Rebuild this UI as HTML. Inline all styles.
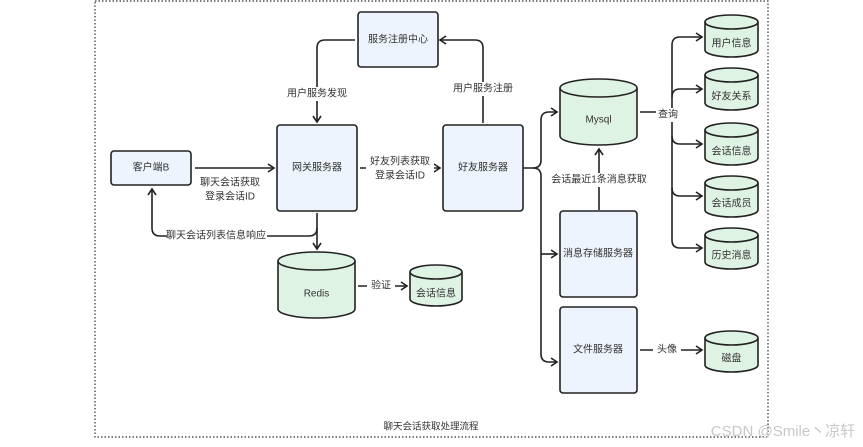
<!DOCTYPE html>
<html><head><meta charset="utf-8"><style>
html,body{margin:0;padding:0;background:#fff;}
svg{display:block;font-family:"Liberation Sans","Noto Sans CJK SC",sans-serif;}
.b{fill:#eef4fd;stroke:#222;stroke-width:1.6;}
.c{fill:#dff3e4;stroke:#222;stroke-width:1.6;}
.l{fill:none;stroke:#222;stroke-width:1.6;}
text{font-size:10px;fill:#333;text-anchor:middle;dominant-baseline:middle;}
</style></head><body>
<svg width="863" height="447" viewBox="0 0 863 447">
<defs><marker id="a" markerWidth="10" markerHeight="10" refX="8" refY="5" orient="auto" markerUnits="userSpaceOnUse"><path d="M2,1 L8,5 L2,9" fill="none" stroke="#222" stroke-width="1.6"/></marker></defs>
<rect x="95" y="1" width="673" height="436" fill="none" stroke="#333" stroke-width="1.2" stroke-dasharray="1.5,2"/>
<!-- boxes -->
<rect class="b" x="358" y="12" width="80" height="55" rx="3"/><text x="398" y="40">服务注册中心</text>
<rect class="b" x="277" y="125" width="80" height="86" rx="3"/><text x="317" y="168">网关服务器</text>
<rect class="b" x="443" y="125" width="80" height="86" rx="3"/><text x="483" y="168">好友服务器</text>
<rect class="b" x="111" y="151" width="80" height="34" rx="3"/><text x="151" y="168">客户端B</text>
<rect class="b" x="560" y="211" width="77" height="86" rx="3"/><text x="598" y="254">消息存储服务器</text>
<rect class="b" x="560" y="307" width="77" height="86" rx="3"/><text x="598" y="350">文件服务器</text>
<!-- cylinders -->
<g>
<path class="c" d="M278,261 v48 a38.5,9 0 0 0 77,0 v-48"/><ellipse class="c" cx="316.5" cy="261" rx="38.5" ry="9"/><text x="316.5" y="294">Redis</text>
<path class="c" d="M410,272 v27 a26,7 0 0 0 52,0 v-27"/><ellipse class="c" cx="436" cy="272" rx="26" ry="7"/><text x="436" y="294">会话信息</text>
<path class="c" d="M560,88 v48 a38.5,9 0 0 0 77,0 v-48"/><ellipse class="c" cx="598.5" cy="88" rx="38.5" ry="9"/><text x="598.5" y="120">Mysql</text>
<path class="c" d="M705,22 v28 a26.5,7 0 0 0 53,0 v-28"/><ellipse class="c" cx="731.5" cy="22" rx="26.5" ry="7"/><text x="731.5" y="44">用户信息</text>
<path class="c" d="M705,75 v28 a26.5,7 0 0 0 53,0 v-28"/><ellipse class="c" cx="731.5" cy="75" rx="26.5" ry="7"/><text x="731.5" y="97">好友关系</text>
<path class="c" d="M705,130 v28 a26.5,7 0 0 0 53,0 v-28"/><ellipse class="c" cx="731.5" cy="130" rx="26.5" ry="7"/><text x="731.5" y="152">会话信息</text>
<path class="c" d="M705,183 v27 a26.5,7 0 0 0 53,0 v-27"/><ellipse class="c" cx="731.5" cy="183" rx="26.5" ry="7"/><text x="731.5" y="204">会话成员</text>
<path class="c" d="M705,235 v27 a26.5,7 0 0 0 53,0 v-27"/><ellipse class="c" cx="731.5" cy="235" rx="26.5" ry="7"/><text x="731.5" y="256">历史消息</text>
<path class="c" d="M705,338 v27 a26.5,7 0 0 0 53,0 v-27"/><ellipse class="c" cx="731.5" cy="338" rx="26.5" ry="7"/><text x="731.5" y="359">磁盘</text>
</g>
<!-- connectors -->
<path class="l" d="M355,40 H325 q-8,0 -8,8 V122" marker-end="url(#a)"/>
<rect x="285" y="87" width="64" height="14" fill="#fff"/><text x="317" y="94">用户服务发现</text>
<path class="l" d="M483,123 V48 q0,-8 -8,-8 H440" marker-end="url(#a)"/>
<rect x="451" y="82" width="64" height="14" fill="#fff"/><text x="483" y="89">用户服务注册</text>
<path class="l" d="M195,168 H274" marker-end="url(#a)"/>
<text x="230" y="183">聊天会话获取</text><text x="230" y="197">登录会话ID</text>
<path class="l" d="M360,168 H440" marker-end="url(#a)"/>
<rect x="366" y="155" width="68" height="28" fill="#fff"/><text x="400" y="162">好友列表获取</text><text x="400" y="176">登录会话ID</text>
<path class="l" d="M317,213 V249" marker-end="url(#a)"/>
<path class="l" d="M317,228 q0,8 -8,8 H160 q-8,0 -8,-8 V189" marker-end="url(#a)"/>
<rect x="167" y="229" width="100" height="14" fill="#fff"/><text x="216" y="236">聊天会话列表信息响应</text>
<path class="l" d="M358,286 H407" marker-end="url(#a)"/>
<rect x="367" y="279" width="28" height="14" fill="#fff"/><text x="381" y="286">验证</text>
<path class="l" d="M523,168 H533 q8,0 8,-8 V120 q0,-8 8,-8 H557" marker-end="url(#a)"/>
<path class="l" d="M533,168 q8,0 8,8 V354 q0,8 8,8 H557" marker-end="url(#a)"/>
<path class="l" d="M541,254 H557" marker-end="url(#a)"/>
<path class="l" d="M599,210 V149" marker-end="url(#a)"/>
<rect x="550" y="173" width="98" height="14" fill="#fff"/><text x="599" y="180">会话最近1条消息获取</text>
<path class="l" d="M640,112 H672"/>
<path class="l" d="M680,37 q-8,0 -8,8 V240 q0,8 8,8 H702" marker-end="url(#a)"/>
<path class="l" d="M680,37 H702" marker-end="url(#a)"/>
<path class="l" d="M672,97 q0,-8 8,-8 H702" marker-end="url(#a)"/>
<path class="l" d="M672,136 q0,8 8,8 H702" marker-end="url(#a)"/>
<path class="l" d="M672,188 q0,8 8,8 H702" marker-end="url(#a)"/>
<rect x="656" y="108" width="26" height="14" fill="#fff"/><text x="668" y="115">查询</text>
<path class="l" d="M640,350 H702" marker-end="url(#a)"/>
<rect x="653" y="343" width="28" height="14" fill="#fff"/><text x="667" y="350">头像</text>
<text x="431" y="427" style="font-size:9.5px">聊天会话获取处理流程</text>
<text x="783" y="432" style="font-size:15px;fill:#c8c8c8">CSDN @Smile丶凉轩</text>
</svg>
</body></html>
